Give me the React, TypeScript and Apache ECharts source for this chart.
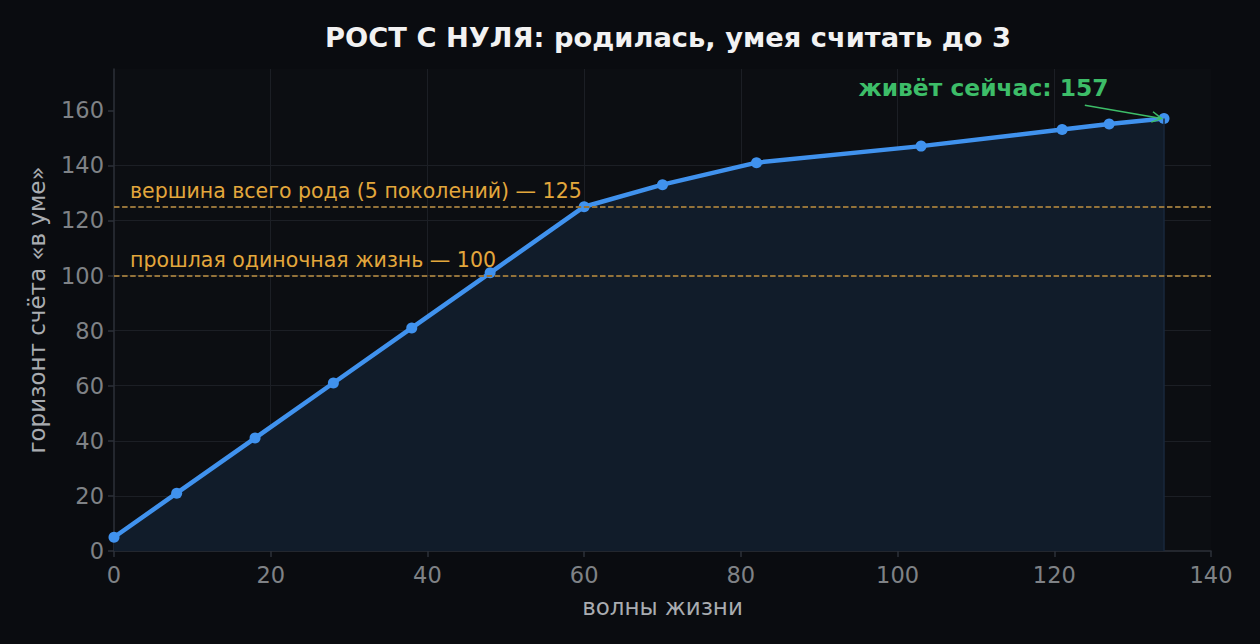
import React, { useEffect, useRef } from "react";
import * as echarts from "echarts";

const waves = [0, 8, 18, 28, 38, 48, 60, 70, 82, 103, 121, 127, 134];
const horizon = [5, 21, 41, 61, 81, 101, 125, 133, 141, 147, 153, 155, 157];
const xTicks = [0, 20, 40, 60, 80, 100, 120, 140];
const yTicks = [0, 20, 40, 60, 80, 100, 120, 140, 160];
const refLines = [
  { value: 125, label: "вершина всего рода (5 поколений) — 125" },
  { value: 100, label: "прошлая одиночная жизнь — 100" },
];
const nowLabel = "живёт сейчас: 157";
const nowTextAt = [95, 168];
const arrowFrom = [123.9, 161.8];

const FONT = "DejaVu Sans";

export default function App() {
  const ref = useRef<HTMLDivElement>(null);
  useEffect(() => {
    document.body.style.margin = "0";
    document.body.style.background = "#0a0c10";
    const chart = echarts.init(ref.current!, null, { renderer: "svg" });
    const points = waves.map((x, i) => [x, horizon[i]]);
    const last = points[points.length - 1];
    chart.setOption({
      animation: false,
      backgroundColor: "#0a0c10",
      textStyle: { fontFamily: FONT },
      title: {
        text: "РОСТ С НУЛЯ: родилась, умея считать до 3",
        left: 663,
        top: 19,
        textAlign: "center",
        textStyle: { color: "#f2f2f2", fontSize: 27.3, fontWeight: "bold", fontFamily: FONT },
      },
      grid: {
        left: 114,
        right: 49,
        top: 69,
        bottom: 93,
        show: true,
        backgroundColor: "#0c0e12",
        borderWidth: 0,
      },
      xAxis: {
        type: "value",
        min: 0,
        max: 140,
        interval: 20,
        name: "волны жизни",
        nameLocation: "middle",
        nameGap: 44,
        nameTextStyle: { color: "#a9acb1", fontSize: 23, fontFamily: FONT },
        axisLine: { show: true, lineStyle: { color: "#2c3038", width: 1.5 } },
        axisTick: { show: true, length: 6, lineStyle: { color: "#2c3038", width: 1.5 } },
        axisLabel: {
          color: "#7f8286",
          fontSize: 22.5,
          margin: 12,
          fontFamily: FONT,
          customValues: xTicks,
        },
        splitLine: { show: true, showMinLine: false, showMaxLine: false, lineStyle: { color: "#1c1f25", width: 1 } },
      },
      yAxis: {
        type: "value",
        min: 0,
        max: 175,
        interval: 20,
        name: "горизонт счёта «в уме»",
        nameLocation: "middle",
        nameGap: 66,
        nameTextStyle: { color: "#a9acb1", fontSize: 23, fontFamily: FONT },
        axisLine: { show: true, lineStyle: { color: "#2c3038", width: 1.5 } },
        axisTick: { show: true, length: 6, lineStyle: { color: "#2c3038", width: 1.5 }, customValues: yTicks },
        axisLabel: {
          color: "#7f8286",
          fontSize: 22.5,
          margin: 10,
          fontFamily: FONT,
          customValues: yTicks,
        },
        splitLine: { show: true, showMinLine: false, showMaxLine: false, lineStyle: { color: "#1c1f25", width: 1 } },
      },
      series: [
        {
          type: "line",
          data: points,
          symbol: "none",
          lineStyle: { width: 0 },
          areaStyle: { color: "#111c2a", opacity: 1 },
          z: 1,
          silent: true,
          markLine: {
            silent: true,
            symbol: ["none", "none"],
            data: [
              [
                { coord: [last[0], 0], lineStyle: { color: "#19283c", type: "solid", width: 1.5 }, label: { show: false } },
                { coord: [last[0], last[1]] },
              ],
            ],
          },
        },
        {
          type: "line",
          data: [],
          z: 2,
          silent: true,
          markLine: {
            silent: true,
            symbol: ["none", "none"],
            data: refLines.map((r) => ({
              yAxis: r.value,
              lineStyle: { color: "#94733a", type: [5.5, 2.6], width: 1.8 },
              label: {
                show: true,
                formatter: r.label,
                position: "insideStartTop",
                color: "#e3a73c",
                fontSize: 20.5,
                fontFamily: FONT,
                distance: [16, 5],
              },
            })),
          },
        },
        {
          type: "line",
          data: points,
          symbol: "circle",
          symbolSize: 11,
          showAllSymbol: true,
          itemStyle: { color: "#4092ee" },
          lineStyle: { color: "#4092ee", width: 4.5 },
          z: 3,
        },
      ],
    });

    const p0 = chart.convertToPixel({ gridIndex: 0 }, arrowFrom) as number[];
    const p1 = chart.convertToPixel({ gridIndex: 0 }, [last[0] - 0.3, last[1]]) as number[];
    const pt = chart.convertToPixel({ gridIndex: 0 }, nowTextAt) as number[];
    const ang = Math.atan2(p1[1] - p0[1], p1[0] - p0[0]);
    const L = 11;
    const a1 = [p1[0] - L * Math.cos(ang - 0.5), p1[1] - L * Math.sin(ang - 0.5)];
    const a2 = [p1[0] - L * Math.cos(ang + 0.5), p1[1] - L * Math.sin(ang + 0.5)];
    chart.setOption({
      graphic: [
        {
          type: "line",
          shape: { x1: p0[0], y1: p0[1], x2: p1[0], y2: p1[1] },
          style: { stroke: "#3dbd68", lineWidth: 1.5 },
          z: 10,
        },
        {
          type: "polyline",
          shape: { points: [a1, p1, a2] },
          style: { stroke: "#3dbd68", lineWidth: 1.5, fill: "none" },
          z: 10,
        },
        {
          type: "text",
          x: pt[0],
          y: pt[1],
          style: {
            text: nowLabel,
            fill: "#3dbd68",
            font: `bold 23.4px "${FONT}"`,
            textAlign: "left",
            textVerticalAlign: "middle",
          },
          z: 10,
        },
      ],
    });
    return () => chart.dispose();
  }, []);
  return <div ref={ref} style={{ width: 1260, height: 644 }} />;
}
